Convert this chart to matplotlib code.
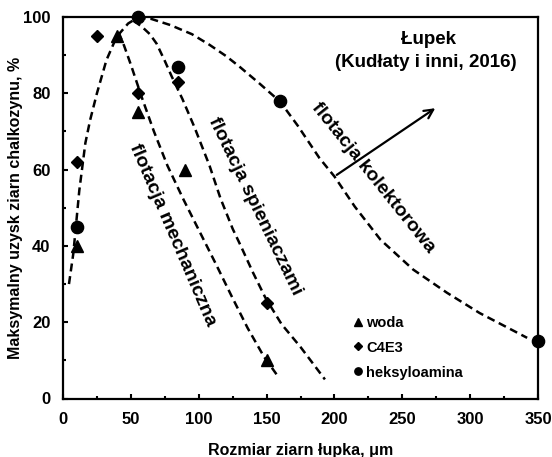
import numpy as np
import matplotlib
matplotlib.use("Agg")
import matplotlib.pyplot as plt

plt.rcParams['font.family'] = ['Liberation Sans', 'DejaVu Sans']
plt.rcParams['font.weight'] = 'bold'

# measured points (particle size in um, max recovery in %)
woda_x = [10, 40, 55, 90, 150]
woda_y = [40, 95, 75, 60, 10]
c4e3_x = [10, 25, 55, 85, 150]
c4e3_y = [62, 95, 80, 83, 25]
heks_x = [10, 55, 85, 160, 350]
heks_y = [45, 100, 87, 78, 15]

# dashed trend curves
rise_x = [4.4, 7.6, 10, 12, 16.5, 20, 25, 32, 39.5, 48, 54]
rise_y = [30, 38, 47, 54.5, 67, 73, 80, 88.7, 94.8, 98.3, 99.6]
mech_x = [41, 45, 50, 58, 67, 77, 89, 101, 113, 124, 136, 148, 158]
mech_y = [96, 92.5, 87.5, 79, 70, 61, 52, 43.5, 35, 27, 18.5, 11, 6]
spien_x = [52, 58, 64, 69, 75, 80, 88, 97, 108, 116, 125, 131, 140, 149, 161, 175, 193]
spien_y = [99, 97.5, 95.5, 93, 88.5, 84.5, 78.5, 71, 61, 52.5, 44.5, 40, 33, 26.5, 19.5, 13.5, 5]
kol_x = [55, 65, 79, 95, 108, 120, 130, 145, 160, 173, 189, 200, 215, 234, 258, 283, 307, 342]
kol_y = [99.8, 99.5, 97.9, 95.5, 92.7, 89.8, 87, 82.5, 77.8, 71.5, 63, 58.2, 50.3, 41.6, 33.8, 27.7, 22.4, 15.9]

fig = plt.figure(figsize=(5.52, 4.57), dpi=100)
ax = fig.add_axes([63 / 552, 58.5 / 457, 475 / 552, 381.5 / 457])

dash = dict(color='black', lw=1.8, linestyle=(0, (3.2, 1.9)))
for cx, cy in [(rise_x, rise_y), (mech_x, mech_y), (spien_x, spien_y), (kol_x, kol_y)]:
    ax.plot(cx, cy, **dash)

ax.plot(woda_x, woda_y, '^', color='black', ms=8.6, label='woda', clip_on=False)
ax.plot(c4e3_x, c4e3_y, 'D', color='black', ms=6.3, label='C4E3', clip_on=False)
ax.plot(heks_x, heks_y, 'o', color='black', ms=8.8, label='heksyloamina', clip_on=False, zorder=5)

ax.set_xlim(0, 350)
ax.set_ylim(0, 100)
ax.set_xticks(np.arange(0, 351, 50))
ax.set_xticks(np.arange(25, 350, 50), minor=True)
ax.set_yticks(np.arange(0, 101, 20))
ax.set_yticks(np.arange(10, 100, 20), minor=True)
ax.tick_params(which='both', direction='in', width=1.5, top=False, right=False)
ax.tick_params(which='major', length=3.5, labelsize=12, pad=10)
ax.tick_params(which='minor', length=2.5)
ax.tick_params(axis='y', pad=9)
for sp in ax.spines.values():
    sp.set_linewidth(1.6)

ax.set_xlabel('Rozmiar ziarn łupka, μm', fontsize=11.5, fontweight='bold', labelpad=11)
ax.set_ylabel('Maksymalny uzysk ziarn chalkozynu, %', fontsize=11.5, fontweight='bold', labelpad=0)

ax.text(269, 94, 'Łupek', ha='center', va='center', fontsize=13.5, fontweight='bold')
ax.text(267, 88.2, '(Kudłaty i inni, 2016)', ha='center', va='center', fontsize=13.5, fontweight='bold')

lbl = dict(ha='center', va='center', fontsize=14, fontweight='bold', rotation_mode='anchor')
ax.text(80.7, 42.9, 'flotacja mechaniczna', rotation=-66.8, **lbl)
ax.text(141.5, 50.4, 'flotacja spieniaczami', rotation=-64.3, **lbl)
ax.text(228.4, 57.9, 'flotacja kolektorowa', rotation=-51.3, **lbl)

ax.annotate('', xy=(276, 76.5), xytext=(200, 58.2),
            arrowprops=dict(arrowstyle='->', color='black', lw=1.6, mutation_scale=16))

ax.legend(loc='center left', bbox_to_anchor=(0.6097, 0.1335), frameon=False,
          markerscale=0.6, handlelength=0.8, handletextpad=0.15,
          labelspacing=0.75, borderpad=0, borderaxespad=0,
          prop=dict(weight='bold', size=10.5))

fig.savefig('out.png', dpi=100)
